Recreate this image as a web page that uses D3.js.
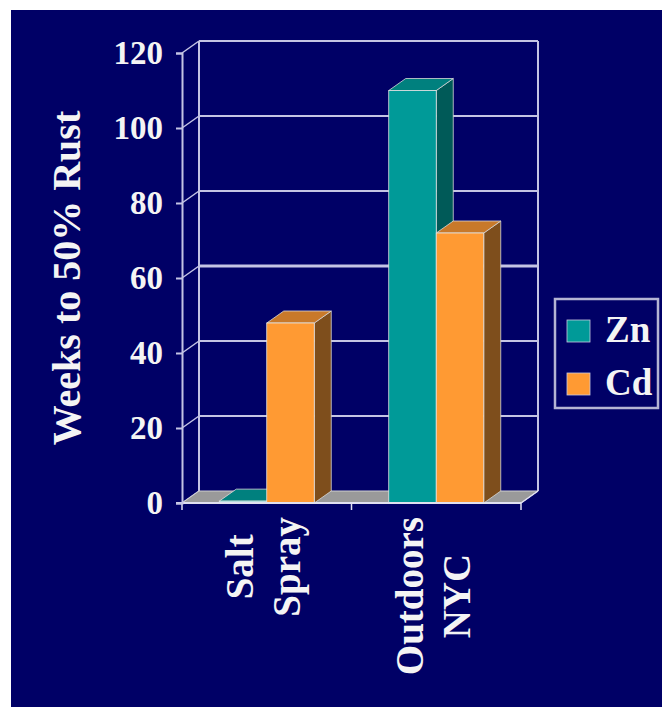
<!DOCTYPE html>
<html>
<head>
<meta charset="utf-8">
<script src="https://cdn.jsdelivr.net/npm/d3@7/dist/d3.min.js"></script>
<style>
  html, body { margin: 0; padding: 0; background: #ffffff; }
  svg { display: block; }
  text { font-family: "Liberation Serif", "Times New Roman", serif; font-weight: bold; fill: #f4f4f4; }
</style>
</head>
<body>
<svg id="chart" width="662" height="707"></svg>
<script>
// Data
const categories = [["Salt", "Spray"], ["Outdoors", "NYC"]];
const categoryKeys = ["Salt Spray", "Outdoors NYC"];
const series = ["Zn", "Cd"];
const znValues = [0.5, 110];
const cdValues = [48, 72];
const yTicks = [0, 20, 40, 60, 80, 100, 120];
const yTitle = "Weeks to 50% Rust";

const values = { Zn: znValues, Cd: cdValues };

// Colours per series: front, top, side faces
const faceColors = {
  Zn: { front: "#009a98", top: "#00807e", side: "#005a58" },
  Cd: { front: "#ff9a33", top: "#c8792a", side: "#7e4e1c" }
};

const svg = d3.select("#chart");
const NAVY = "#000066";
const GRID = "#c4c4e4";

svg.append("rect").attr("x", 11).attr("y", 10).attr("width", 651).attr("height", 697).attr("fill", NAVY);

// Plot geometry (front plane) and depth offset for the 3-D look
const x0 = 182, x1 = 521;
const dx = 17, dy = -12;

const y = d3.scaleLinear().domain([0, 120]).range([503, 53]);
const xCat = d3.scaleBand().domain(categoryKeys).range([x0, x1]).padding(0);
const xSer = d3.scaleBand().domain(series).range([0, xCat.bandwidth()])
  .paddingInner(0).paddingOuter(0.784);

const g = svg.append("g");

// Back wall gridlines and edges
yTicks.forEach(t => {
  const yb = y(t) + dy;
  if (t > 0) {
    g.append("line")
      .attr("x1", x0 + dx).attr("x2", x1 + dx)
      .attr("y1", yb).attr("y2", yb)
      .attr("stroke", GRID).attr("stroke-width", t === 60 ? 3 : 2);
  }
  // side wall connector from front tick to back wall
  g.append("line")
    .attr("x1", x0).attr("y1", y(t))
    .attr("x2", x0 + dx).attr("y2", yb)
    .attr("stroke", GRID).attr("stroke-width", 1.5);
});
g.append("line").attr("x1", x0 + dx).attr("x2", x0 + dx)
  .attr("y1", y(120) + dy).attr("y2", y(0) + dy).attr("stroke", GRID).attr("stroke-width", 2);
g.append("line").attr("x1", x1 + dx).attr("x2", x1 + dx)
  .attr("y1", y(120) + dy).attr("y2", y(0) + dy).attr("stroke", GRID).attr("stroke-width", 2);

// Floor
g.append("polygon")
  .attr("points", [[x0, y(0)], [x1, y(0)], [x1 + dx, y(0) + dy], [x0 + dx, y(0) + dy]].join(" "))
  .attr("fill", "#9a9a9a").attr("stroke", "#d0d0d0").attr("stroke-width", 1);

// Bars
const bars = g.append("g");
categoryKeys.forEach((cat, ci) => {
  series.forEach(s => {
    const v = values[s][ci];
    const bx = xCat(cat) + xSer(s);
    const bw = xSer.bandwidth();
    const yt = y(v), yb = y(0);
    const c = faceColors[s];
    const bg = bars.append("g");
    // side face
    bg.append("polygon")
      .attr("points", [[bx + bw, yt], [bx + bw + dx, yt + dy], [bx + bw + dx, yb + dy], [bx + bw, yb]].join(" "))
      .attr("fill", c.side).attr("stroke", "#d8d8d8").attr("stroke-width", 0.8);
    // top face
    bg.append("polygon")
      .attr("points", [[bx, yt], [bx + dx, yt + dy], [bx + bw + dx, yt + dy], [bx + bw, yt]].join(" "))
      .attr("fill", c.top).attr("stroke", "#d8d8d8").attr("stroke-width", 0.8);
    // front face
    bg.append("rect")
      .attr("x", bx).attr("y", yt).attr("width", bw).attr("height", Math.max(yb - yt, 1.5))
      .attr("fill", v < 2 ? "#7fe0e0" : c.front).attr("stroke", "#e4e4e4").attr("stroke-width", 0.8);
  });
});

// Front floor edge and category ticks
g.append("line").attr("x1", x0 - 6).attr("x2", x1).attr("y1", y(0)).attr("y2", y(0))
  .attr("stroke", "#e0e0f0").attr("stroke-width", 2);
g.append("line").attr("x1", x1).attr("y1", y(0)).attr("x2", x1 + dx).attr("y2", y(0) + dy)
  .attr("stroke", "#e0e0f0").attr("stroke-width", 1.5);
const catEdges = [x0, xCat(categoryKeys[1]), x1];
catEdges.forEach(xe => {
  g.append("line").attr("x1", xe).attr("x2", xe).attr("y1", y(0)).attr("y2", y(0) + 7)
    .attr("stroke", "#e0e0f0").attr("stroke-width", 1.5);
});

// Y axis on the front plane
const yAxis = d3.axisLeft(y).tickValues(yTicks).tickSize(6).tickPadding(13);
const ya = svg.append("g").attr("transform", `translate(${x0},0)`).call(yAxis);
ya.select(".domain").attr("stroke", GRID).attr("stroke-width", 2);
ya.selectAll(".tick line").attr("stroke", GRID).attr("stroke-width", 2);
ya.selectAll(".tick text").attr("fill", "#f4f4f4").style("font-size", "33px")
  .style("font-family", "'Liberation Serif', serif").style("font-weight", "bold");

// Y axis title
svg.append("text")
  .attr("transform", "translate(80,278) rotate(-90)")
  .attr("text-anchor", "middle")
  .style("font-size", "40px")
  .text(yTitle);

// Category labels, rotated, two lines per category
categoryKeys.forEach((cat, ci) => {
  const lines = categories[ci];
  const cx = xCat(cat) + xCat.bandwidth() / 2;
  const lg = svg.append("g");
  const texts = lines.map((ln, li) =>
    lg.append("text").style("font-size", "39px").attr("text-anchor", "middle").text(ln));
  const maxLen = d3.max(texts, t => t.node().getComputedTextLength());
  const topY = 517;
  const lineGap = 47;
  const base0 = cx + 10 - (lines.length - 1) * lineGap / 2;
  texts.forEach((t, li) => {
    t.attr("transform", `translate(${base0 + li * lineGap},${topY + maxLen / 2}) rotate(-90)`);
  });
});

// Legend
const lg = svg.append("g");
lg.append("rect").attr("x", 555).attr("y", 299).attr("width", 103).attr("height", 109)
  .attr("fill", NAVY).attr("stroke", "#b4b4d4").attr("stroke-width", 2.5);
series.forEach((s, i) => {
  const yy = 320 + i * 53;
  lg.append("rect").attr("x", 567).attr("y", yy).attr("width", 23).attr("height", 22)
    .attr("fill", faceColors[s].front).attr("stroke", "#c8c8e0").attr("stroke-width", 0.8);
  lg.append("text").attr("x", 605).attr("y", yy + 22).style("font-size", "37px").text(s);
});
</script>
</body>
</html>
